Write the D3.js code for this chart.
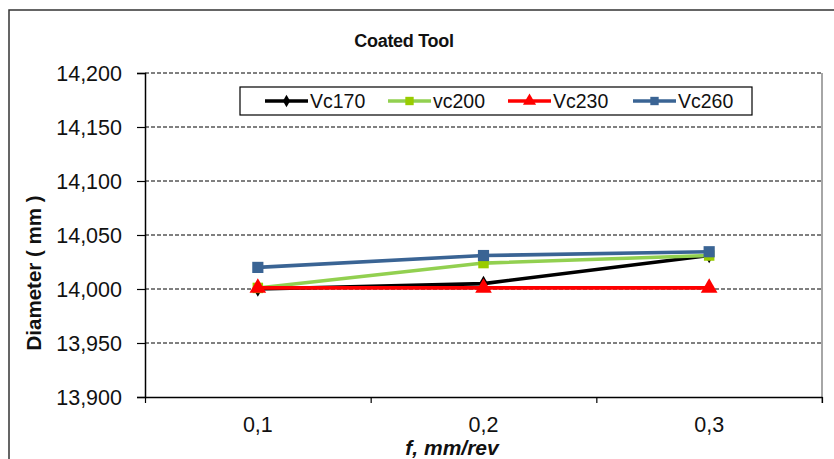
<!DOCTYPE html>
<html>
<head>
<meta charset="utf-8">
<script src="https://cdn.jsdelivr.net/npm/d3@7"></script>
<style>
  html, body { margin: 0; padding: 0; background: #fff; }
  svg { display: block; font-family: "Liberation Sans", Arial, sans-serif; }
</style>
</head>
<body>
<svg id="chart" width="834" height="459"></svg>
<script>
// ---- data ----
const categories = ["0,1", "0,2", "0,3"];
const seriesNames = ["Vc170", "vc200", "Vc230", "Vc260"];
const vc170 = [14.000, 14.005, 14.031];
const vc200 = [14.001, 14.024, 14.031];
const vc230 = [14.001, 14.001, 14.001];
const vc260 = [14.020, 14.031, 14.0345];
const yTickValues = [13.90, 13.95, 14.00, 14.05, 14.10, 14.15, 14.20];
const yTickLabels = ["13,900", "13,950", "14,000", "14,050", "14,100", "14,150", "14,200"];
const titleText = "Coated Tool";
const xTitle = "f, mm/rev";
const yTitle = "Diameter ( mm )";

// ---- styles ----
const styles = [
  { line: "#000000", fill: "#000000", symbol: d3.symbolDiamond, size: 70, lsize: 45 },
  { line: "#92D050", fill: "#99CC00", symbol: d3.symbolSquare, size: 110, lsize: 70 },
  { line: "#FF0000", fill: "#FF0000", symbol: d3.symbolTriangle, size: 120, lsize: 75 },
  { line: "#3A6494", fill: "#3A6494", symbol: d3.symbolSquare, size: 125, lsize: 70 }
];
const allSeries = [vc170, vc200, vc230, vc260];

const svg = d3.select("#chart");
const L = 145, R = 822, T = 73, B = 397;

// outer border
svg.append("path")
  .attr("d", `M9,470 L9,10 L840,10`)
  .attr("fill", "none").attr("stroke", "#333").attr("stroke-width", 1.5);

const x = d3.scaleBand().domain(categories).range([L, R]).padding(0);
const xEdge = d3.scaleLinear().domain([0, categories.length]).range([L, R]);
const y = d3.scaleLinear().domain([13.9, 14.2]).range([B, T]);

// gridlines
svg.append("g").selectAll("line")
  .data(yTickValues.filter(v => v > 13.9))
  .join("line")
  .attr("x1", L).attr("x2", R)
  .attr("y1", d => y(d)).attr("y2", d => y(d))
  .attr("stroke", "#000").attr("stroke-width", 1)
  .attr("stroke-dasharray", "4,2");

// right border of plot
svg.append("line").attr("x1", R).attr("x2", R).attr("y1", T).attr("y2", B + 6)
  .attr("stroke", "#888").attr("stroke-width", 1.5);

// y axis
const yAxis = svg.append("g").attr("transform", `translate(${L},0)`)
  .call(d3.axisLeft(y).tickValues(yTickValues)
    .tickFormat((d, i) => yTickLabels[i]).tickSize(8).tickPadding(15));
yAxis.select(".domain").attr("stroke", "#000").attr("stroke-width", 1.5);
yAxis.selectAll(".tick line").attr("stroke", "#000").attr("stroke-width", 1.2);
yAxis.selectAll(".tick text").attr("font-size", 21.5).attr("fill", "#111")
  .attr("font-family", "Liberation Sans, Arial, sans-serif").attr("dy", "0.34em");

// x axis (ticks at category boundaries)
const xAxis = svg.append("g").attr("transform", `translate(0,${B})`)
  .call(d3.axisBottom(xEdge).tickValues(d3.range(categories.length + 1))
    .tickFormat("").tickSize(6).tickSizeOuter(0));
xAxis.select(".domain").attr("stroke", "#000").attr("stroke-width", 1.5);
xAxis.selectAll(".tick line").attr("stroke", "#000").attr("stroke-width", 1.2);

svg.append("g").selectAll("text").data(categories).join("text")
  .attr("x", d => x(d) + x.bandwidth() / 2)
  .attr("y", 432)
  .attr("text-anchor", "middle")
  .attr("font-size", 21.5).attr("fill", "#111")
  .text(d => d);

// lines and markers
const line = d3.line().x((d, i) => x(categories[i]) + x.bandwidth() / 2).y(d => y(d));
allSeries.forEach((s, k) => {
  const st = styles[k];
  svg.append("path").datum(s).attr("d", line)
    .attr("fill", "none").attr("stroke", st.line).attr("stroke-width", 3.6)
    .attr("stroke-linejoin", "round");
  svg.append("g").selectAll("path").data(s).join("path")
    .attr("transform", (d, i) => `translate(${x(categories[i]) + x.bandwidth() / 2},${y(d)})`)
    .attr("d", d3.symbol().type(st.symbol).size(st.size))
    .attr("fill", st.fill);
});

// title
svg.append("text").attr("x", 404).attr("y", 47).attr("text-anchor", "middle")
  .attr("font-size", 18).attr("font-weight", "bold").attr("letter-spacing", "-0.3")
  .attr("fill", "#111").text(titleText);

// axis titles
svg.append("text").attr("x", 452).attr("y", 455).attr("text-anchor", "middle")
  .attr("font-size", 21).attr("font-weight", "bold").attr("font-style", "italic")
  .attr("fill", "#111").text(xTitle);
svg.append("text").attr("transform", "translate(41,273) rotate(-90)")
  .attr("text-anchor", "middle")
  .attr("font-size", 20.5).attr("font-weight", "bold")
  .attr("fill", "#111").text(yTitle);

// legend
const lg = svg.append("g");
lg.append("rect").attr("x", 240).attr("y", 87).attr("width", 512).attr("height", 28)
  .attr("fill", "#fff").attr("stroke", "#000").attr("stroke-width", 1.2);
const legX = [265, 388, 508, 633];
seriesNames.forEach((name, k) => {
  const st = styles[k];
  const g = lg.append("g").attr("transform", `translate(${legX[k]},101)`);
  g.append("line").attr("x1", 0).attr("x2", 43).attr("y1", 0).attr("y2", 0)
    .attr("stroke", st.line).attr("stroke-width", 3.6);
  g.append("path").attr("transform", "translate(21.5,0)")
    .attr("d", d3.symbol().type(st.symbol).size(st.lsize)).attr("fill", st.fill);
  g.append("text").attr("x", 45).attr("y", 7).attr("font-size", 19.5)
    .attr("fill", "#111").text(name);
});
</script>
</body>
</html>
